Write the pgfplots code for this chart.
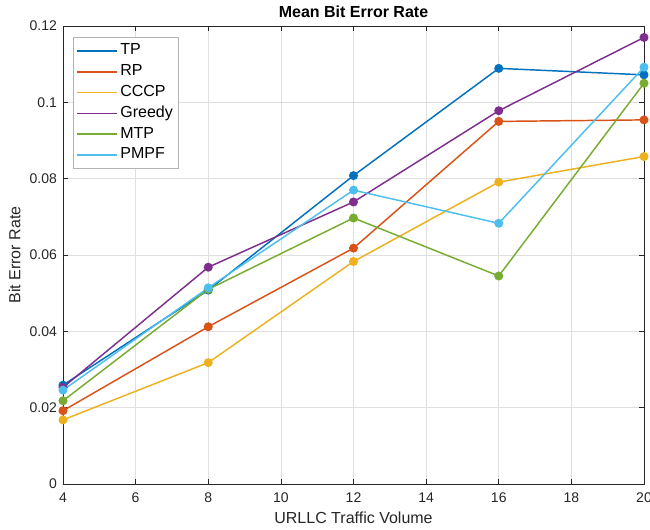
\documentclass[border=0pt]{standalone}
\usepackage{pgfplots}
\pgfplotsset{compat=1.18}
\usepackage{fontspec}
\setmainfont{Liberation Sans}
\definecolor{cTP}{rgb}{0,0.447,0.741}
\definecolor{cRP}{rgb}{0.85,0.325,0.098}
\definecolor{cCC}{rgb}{0.929,0.694,0.125}
\definecolor{cGR}{rgb}{0.494,0.184,0.556}
\definecolor{cMT}{rgb}{0.466,0.674,0.188}
\definecolor{cPM}{rgb}{0.301,0.745,0.933}
\definecolor{axc}{rgb}{0.15,0.15,0.15}
\begin{document}
\begin{tikzpicture}
\begin{axis}[
  scale only axis,
  width=435.75pt, height=343.5pt,
  xmin=4, xmax=20, ymin=0, ymax=0.12,
  xtick={4,6,...,20},
  ytick={0,0.02,0.04,0.06,0.08,0.1,0.12},
  scaled y ticks=false,
  yticklabel style={/pgf/number format/fixed,/pgf/number format/precision=2, xshift=-1pt},
  xticklabel style={yshift=-3pt},
  /pgf/number format/assume math mode=true,
  tick label style={font=\fontsize{10.5}{12}\selectfont, text=axc},
  label style={font=\fontsize{12}{14}\selectfont, text=axc},
  title style={font=\fontsize{12}{14}\selectfont\bfseries, yshift=-3pt},
  title={Mean Bit Error Rate},
  xlabel={URLLC Traffic Volume},
  ylabel={Bit Error Rate},
  xlabel style={yshift=0pt},
  ylabel style={yshift=0pt},
  axis line style={axc, line width=0.5pt},
  tick style={axc, line width=0.5pt},
  tick align=inside,
  major tick length=4pt,
  grid=major,
  grid style={gray!25, line width=0.5pt},
  legend style={at={(0.017,0.976)}, anchor=north west, draw=gray!60, fill=white,
    font=\fontsize{12}{14}\selectfont, row sep=0pt, inner sep=2.5pt,
    nodes={inner sep=1.8pt, text height=9pt, text depth=3pt}},
  legend cell align=left,
  legend image code/.code={\draw[#1] (0pt,0pt) -- (30pt,0pt);},
  every axis plot/.append style={line width=1.1pt, mark=*, mark size=2.8pt},
]
\addplot[cTP, mark options={fill=cTP}] coordinates {(4,0.0259) (8,0.0508) (12,0.0808) (16,0.1089) (20,0.1072)};
\addlegendentry{TP}
\addplot[cRP, mark options={fill=cRP}] coordinates {(4,0.0192) (8,0.0412) (12,0.0618) (16,0.0950) (20,0.0954)};
\addlegendentry{RP}
\addplot[cCC, mark options={fill=cCC}] coordinates {(4,0.0168) (8,0.0318) (12,0.0583) (16,0.0791) (20,0.0858)};
\addlegendentry{CCCP}
\addplot[cGR, mark options={fill=cGR}] coordinates {(4,0.0253) (8,0.0568) (12,0.0739) (16,0.0978) (20,0.1170)};
\addlegendentry{Greedy}
\addplot[cMT, mark options={fill=cMT}] coordinates {(4,0.0218) (8,0.0510) (12,0.0697) (16,0.0545) (20,0.1050)};
\addlegendentry{MTP}
\addplot[cPM, mark options={fill=cPM}] coordinates {(4,0.0246) (8,0.0514) (12,0.0770) (16,0.0683) (20,0.1092)};
\addlegendentry{PMPF}
\coordinate (ll) at (rel axis cs:0,0);
\coordinate (ur) at (rel axis cs:1,1);
\end{axis}
\pgfresetboundingbox
\path[use as bounding box] ([shift={(-47.25pt,-33.75pt)}]ll) rectangle ([shift={(4.5pt,19.5pt)}]ur);
\end{tikzpicture}
\end{document}
